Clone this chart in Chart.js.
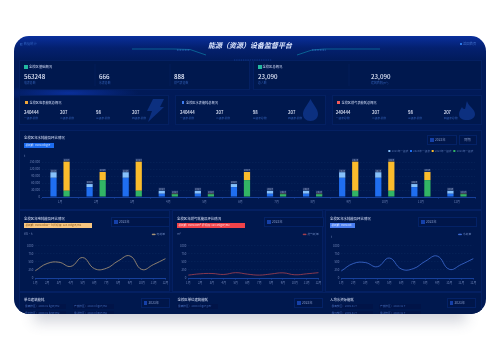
<!DOCTYPE html>
<html>
<head>
<meta charset="utf-8">
<script src="https://cdn.jsdelivr.net/npm/chart.js"></script>
<style>
  html, body { margin: 0; padding: 0; background: #fff; width: 500px; height: 360px; overflow: hidden; }
  body { font-family: "Noto Sans CJK SC", "Noto Sans", sans-serif; }
  #shadow { position: absolute; left: 34px; top: 280px; width: 432px; height: 32px; box-shadow: 0 10px 14px rgba(70,80,110,.24); }
  #board { position: absolute; left: 14px; top: 36px; width: 472px; height: 278px; border-radius: 15px; overflow: hidden; filter: blur(.35px);
    background:
      radial-gradient(ellipse 70px 9px at 55px 57px, #0a2f9a 0%, rgba(10,47,154,0) 100%),
      linear-gradient(180deg, #0a2f9c 0px, #04206f 12px, #011a58 26px, #011a55 100%); }
  .box { position: absolute; box-sizing: border-box; background: #00184e; border: 1px solid #042062; }
  .t { position: absolute; white-space: nowrap; line-height: 1; color: #fff; }
  canvas { position: absolute; }
  svg { position: absolute; left: 0; top: 0; }
</style>
</head>
<body>
<div id="shadow"></div>
<div id="board"></div>
<script>
var months = ['1月','2月','3月','4月','5月','6月','7月','8月','9月','10月','11月','12月'];

// bar chart
var level1A = [83000,43000,83000,14000,14000,43000,14000,14000,83000,83000,43000,14000];
var level2A = [24000,13000,24000,13000,13000,13000,13000,13000,24000,24000,13000,13000];
var level1B = [27000,73000,27000,12000,12000,73000,12000,12000,27000,27000,73000,12000];
var level2B = [126000,35000,126000,2000,2000,35000,2000,2000,126000,126000,35000,2000];
var barTicks = ['0','30,000','60,000','90,000','120,000','150,000'];
var barLegend = ['2023年一级表','2023年一级表','2023年一级表','2023年一级表'];
var barTopLabel = '2023';

// line charts
var powerValues = [225,450,490,360,635,290,300,530,685,265,420,600];
var gasValues = [90,130,140,110,165,120,90,125,160,100,130,165];
var waterValues = [220,450,480,350,620,280,290,520,680,270,420,600];
var lineTicks = ['0','250','500','750','1000'];

var board = document.getElementById('board');
var OX = 14, OY = 36;

function text(x, y, s, size, color, extra) {
  var el = document.createElement('div');
  el.className = 't';
  el.textContent = s;
  el.style.left = (x - OX) + 'px';
  el.style.top = (y - OY - size / 2) + 'px';
  el.style.fontSize = size + 'px';
  el.style.color = color || '#fff';
  if (extra) el.style.cssText += extra;
  board.appendChild(el);
  return el;
}
function box(x, y, w, h, bg, border) {
  var el = document.createElement('div');
  el.className = 'box';
  el.style.left = (x - OX) + 'px';
  el.style.top = (y - OY) + 'px';
  el.style.width = w + 'px';
  el.style.height = h + 'px';
  if (bg) el.style.background = bg;
  if (border !== undefined) el.style.borderColor = border;
  board.appendChild(el);
  return el;
}
function yearBox(x, y, w, label, iconX) {
  box(x, y, w, 10, '#00164a', '#042266');
  box(iconX, y + 3, 3.5, 4, '#1540a8', 'transparent');
  text(iconX + 5, y + 5, label, 3.3, '#8096c4');
}

// panels
box(19, 60, 231, 30);
box(253, 60, 229, 30);
box(19, 95, 150, 30);
box(175, 95, 151, 30);
box(332, 95, 150, 30);
box(19, 130, 463, 80);
box(19, 210, 151, 82);
box(172, 210, 151, 82);
box(325, 210, 157, 82);
box(19, 292, 463, 30);

// header
var deco = document.createElementNS('http://www.w3.org/2000/svg', 'svg');
deco.setAttribute('width', 472);
deco.setAttribute('height', 278);
deco.innerHTML =
  '<path d="M118 13 L160 13 L176 13.5 L192 19" stroke="#0f8fb0" stroke-width=".6" fill="none"/>' +
  '<path d="M366 13 L310 13 L298 14 L283 19" stroke="#0f8fb0" stroke-width=".6" fill="none"/>' +
  '<path d="M163 14 L176 14" stroke="#3a7fd0" stroke-width="1" stroke-dasharray=".8 .8" fill="none"/>' +
  '<path d="M298 14 L312 14" stroke="#3a7fd0" stroke-width="1" stroke-dasharray=".8 .8" fill="none"/>' +
  '<path d="M220 24 L258 24" stroke="#1b4aa8" stroke-width=".8" stroke-dasharray=".8 1" fill="none"/>' +
  // cards background icons
  '<path d="M139 63 L150 63 L146 71 L150 71 L134 86 L138 75 L133 75 Z" fill="#0c3080"/>' +
  '<path d="M296.5 63 C300 70 304 73 304 78 C304 82 301 85 296.5 85 C292 85 289 82 289 78 C289 73 293 70 296.5 63 Z" fill="#0c3080"/>' +
  '<path d="M453 65 C454 70 461 73 461 78 C461 82 457 84 453 84 C448 84 445 82 445 78 C445 75 447 73 448 71 C449 73 450 73 451 73 C452 70 452 68 453 65 Z" fill="#0c3080"/>' +
  // separators in overview
  '<path d="M81 28 V50 M156 28 V50 M335 28 V50" stroke="#042266" stroke-width=".5"/>';
board.appendChild(deco);

text(20, 44, '◧ 数据统计', 3.3, '#2c5cb8');
text(250, 45, '能源（资源）设备监督平台', 7, '#dfe8ff', 'font-weight:700;font-style:italic;transform:translateX(-50%);');
box(459.5, 43, 2.4, 2.4, '#2a78e8', 'transparent');
text(463, 44, '返回首页', 3.3, '#4472cc');

// overview cards
box(24, 65, 3.6, 4, '#22b8a0', 'transparent');
text(29, 67, '全校区基础概况', 3.3, '#cfdaf5');
text(24, 77, '563248', 6.2, '#dfe6f8', 'font-weight:500;');
text(24, 83.3, '电表总数', 2.9, '#2f5cb0');
text(99, 77, '666', 6.2, '#dfe6f8', 'font-weight:500;');
text(99, 83.3, '水表总数', 2.9, '#2f5cb0');
text(174, 77, '888', 6.2, '#dfe6f8', 'font-weight:500;');
text(174, 83.3, '燃气表总数', 2.9, '#2f5cb0');

box(258, 65, 3.6, 4, '#22b8a0', 'transparent');
text(262.5, 67, '全校区总概况', 3.3, '#cfdaf5');
text(258, 77, '23,090', 6.2, '#dfe6f8', 'font-weight:500;');
text(258, 83.3, '总人数', 2.9, '#2f5cb0');
text(371, 77, '23,090', 6.2, '#dfe6f8', 'font-weight:500;');
text(371, 83.3, '建筑面积(m²)', 2.9, '#2f5cb0');

var levelNames = ['一级表总数','二级表总数','三级表总数','四级表总数'];
var levelValues = ['240444','207','98','207'];
function meterCard(iconX, color, title, xs) {
  box(iconX, 100.8, 2.6, 3.6, color, 'transparent');
  text(iconX + 4.5, 102.7, title, 3.2, '#cfdaf5');
  xs.forEach(function (x, i) {
    text(x, 112, levelValues[i], 4.3, '#dfe6f8', 'font-weight:500;');
    text(x, 118, levelNames[i], 2.8, '#2f5cb0');
  });
}
meterCard(25, '#f0a63a', '全校区电表能耗总概况', [24, 60, 96, 132]);
meterCard(181.5, '#3f7df0', '全校区水表能耗总概况', [180, 216, 252.7, 288]);
meterCard(337, '#f05a5a', '全校区燃气表能耗总概况', [335.7, 372, 408, 443.7]);

// section titles
function chartHead(x, title, chipW, chipBg, chipColor, chipText, y) {
  text(x, y, title, 3.4, '#d8e2fa');
  box(x, y + 4.5, chipW, 5.5, chipBg, 'transparent');
  text(x + 1.5, y + 7.3, chipText, 2.7, chipColor);
}
chartHead(24, '全校区年水耗能及环比情况', 29.5, '#1c6cf0', '#cfe0ff', '总耗能: 9999.00kgce', 138);
yearBox(427, 135, 30, '2023年', 430);
box(459, 135, 18, 10, '#00164a', '#042266');
text(464, 140, '同期', 3.3, '#8096c4');
text(24, 156, 't', 3.2, '#6a80b4');

chartHead(24, '全校区年电耗能及环比情况', 68, '#f7c680', '#8a5a20', '总耗能: 9999.00kW·h  折标煤: 123.45tgce/m2', 218.3);
yearBox(111, 217, 59, '2023年', 114);
text(24, 234, 'kW·h', 2.8, '#6a80b4');

chartHead(177, '全校区年燃气耗能及环比情况', 68, '#f0434a', '#ffd9d9', '总耗能: 9999.00m³  折标煤: 123.45tgce/m2', 218.3);
yearBox(264, 217, 60, '2023年', 267);
text(177, 234, 'm³', 2.8, '#6a80b4');

chartHead(330, '全校区年水耗能及环比情况', 24.5, '#4a7df0', '#dbe6ff', '总耗能: 9999.00t', 218.3);
yearBox(418, 217, 59, '2023年', 421);
text(331, 237, 't', 2.8, '#6a80b4');

// bottom row, cut off by the board
function chipRow(x, y, w, s) {
  box(x, y - 2.5, w, 5, '#011448', 'transparent');
  text(x + 1, y, s, 2.7, '#3f66b4');
}
text(24, 300, '单位建筑能耗', 3.4, '#d8e2fa');
chipRow(24, 306.7, 42, '最高校区：2009.01 kgce/m2');
chipRow(73, 306.7, 41, '产热校区：2020.0 kgce/m2');
chipRow(24, 313, 42, '最低校区：2009.01 kgce/m2');
chipRow(73, 313, 41, '最新校区：2020.0 kgce/m2');
yearBox(141, 297.5, 29, '2023年', 143.5);

text(177.5, 300, '全校区单位建筑能耗', 3.4, '#d8e2fa');
chipRow(177, 306.7, 41, '最高校区：2009.0 kgce/per');
yearBox(294, 297.5, 29, '2023年', 297);

text(330, 300, '人均水资源能耗', 3.4, '#d8e2fa');
chipRow(330.5, 306.7, 42.5, '最高校区：2009.41 T');
chipRow(379, 306.7, 42, '产热校区：2020.41 T');
chipRow(330.5, 313, 42.5, '最低校区：2009.41 T');
chipRow(379, 313, 42, '最新校区：2020.41 T');
yearBox(447, 297.5, 29, '2023年', 449.5);

function addCanvas(x, y, w, h) {
  var c = document.createElement('canvas');
  c.width = w;
  c.height = h;
  c.style.left = (x - OX) + 'px';
  c.style.top = (y - OY) + 'px';
  c.style.width = w + 'px';
  c.style.height = h + 'px';
  board.appendChild(c);
  return c;
}

var topLabels = {
  id: 'topLabels',
  afterDatasetsDraw: function (chart) {
    var ctx = chart.ctx;
    ctx.save();
    ctx.font = '2.6px "Noto Sans CJK SC"';
    ctx.textAlign = 'center';
    ctx.textBaseline = 'bottom';
    [1, 3].forEach(function (i) {
      chart.getDatasetMeta(i).data.forEach(function (bar) {
        var w = 6.6, h = 2.8;
        ctx.fillStyle = 'rgba(70,90,140,.4)';
        ctx.fillRect(bar.x - w / 2, bar.y - h - .3, w, h);
        ctx.fillStyle = '#93a4c8';
        ctx.fillText(barTopLabel, bar.x, bar.y - .3);
      });
    });
    ctx.restore();
  }
};

var legendOrder = [1, 0, 3, 2];
new Chart(addCanvas(19, 130, 463, 80), {
  type: 'bar',
  plugins: [topLabels],
  data: {
    labels: months,
    datasets: [
      { label: barLegend[1], data: level1A, backgroundColor: '#1f6ef0', stack: 'a', clip: false },
      { label: barLegend[0], data: level2A, backgroundColor: '#86c0fa', stack: 'a', clip: false },
      { label: barLegend[3], data: level1B, backgroundColor: '#32b565', stack: 'b', clip: false },
      { label: barLegend[2], data: level2B, backgroundColor: '#fbbc2c', stack: 'b', clip: false }
    ]
  },
  options: {
    responsive: false,
    animation: false,
    categoryPercentage: 0.724,
    barPercentage: 0.477,
    layout: { padding: { left: 4, right: 7, top: 18, bottom: 0 } },
    plugins: {
      tooltip: { enabled: false },
      legend: {
        display: true,
        position: 'top',
        align: 'end',
        labels: {
          boxWidth: 2,
          boxHeight: 2,
          padding: 1.6,
          color: '#4f6ca8',
          font: { size: 2.7, family: 'Noto Sans CJK SC' },
          sort: function (a, b) { return legendOrder.indexOf(a.datasetIndex) - legendOrder.indexOf(b.datasetIndex); }
        }
      }
    },
    scales: {
      x: {
        stacked: true,
        grid: { drawOnChartArea: false, drawTicks: true, tickLength: 1.5, color: '#17409a' },
        border: { color: '#17409a', width: 1 },
        ticks: { color: '#6a80b4', font: { size: 2.9, family: 'Noto Sans CJK SC' }, padding: 1.5, maxRotation: 0, autoSkip: false },
        afterFit: function (s) { s.height = 13; }
      },
      y: {
        stacked: true,
        min: 0,
        max: 150000,
        grid: { color: '#052056', drawTicks: false },
        border: { display: false, dash: [1.5, 1.5] },
        ticks: {
          stepSize: 30000,
          color: '#6a80b4',
          font: { size: 2.9, family: 'Noto Sans CJK SC' },
          padding: 2,
          callback: function (v, i) { return barTicks[i]; }
        },
        afterFit: function (s) { s.width = 19; }
      }
    }
  }
});

function lineChart(x, w, padLeft, padRight, name, values, color) {
  return new Chart(addCanvas(x, 228, w, 62), {
    type: 'line',
    data: {
      labels: months,
      datasets: [{ label: name, data: values, borderColor: color, backgroundColor: color, borderWidth: 0.8, pointRadius: 0, tension: 0.45, clip: false }]
    },
    options: {
      responsive: false,
      animation: false,
      layout: { padding: { left: 2, right: padRight, top: 3, bottom: 0 } },
      plugins: {
        tooltip: { enabled: false },
        legend: {
          display: true,
          position: 'top',
          align: 'end',
          labels: {
            boxWidth: 3,
            boxHeight: 0.6,
            padding: 2,
            color: '#5a76ae',
            font: { size: 2.8, family: 'Noto Sans CJK SC' }
          }
        }
      },
      scales: {
        x: {
          offset: false,
          grid: { drawOnChartArea: false, drawTicks: true, tickLength: 1.5, color: '#17409a' },
          border: { color: '#17409a', width: 1 },
          ticks: { color: '#6a80b4', font: { size: 2.9, family: 'Noto Sans CJK SC' }, padding: 1.5, maxRotation: 0, autoSkip: false },
          afterFit: function (s) { s.height = 12; }
        },
        y: {
          min: 0,
          max: 1000,
          grid: { color: '#052056', drawTicks: false },
          border: { display: false, dash: [1.5, 1.5] },
          ticks: {
            stepSize: 250,
            color: '#6a80b4',
            font: { size: 2.9, family: 'Noto Sans CJK SC' },
            padding: 2,
            callback: function (v, i) { return lineTicks[i]; }
          },
          afterFit: function (s) { s.width = padLeft - 2; }
        }
      }
    }
  });
}
lineChart(19, 151, 16.3, 3, '电耗量', powerValues, '#b09a78');
lineChart(172, 151, 16.3, 2.3, '燃气耗量', gasValues, '#a8414f');
lineChart(325, 157, 16.3, 8.7, '水耗量', waterValues, '#3f6fd8');
</script>
</body>
</html>
